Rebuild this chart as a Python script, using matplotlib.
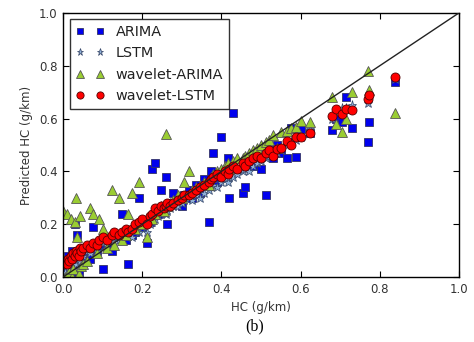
import matplotlib
matplotlib.use("Agg")
import matplotlib.pyplot as plt

# shared measured HC values (g/km)
hc_true = [0.000, 0.005, 0.010, 0.012, 0.015, 0.020, 0.022, 0.025, 0.030, 0.032,
           0.035, 0.040, 0.042, 0.045, 0.050, 0.060, 0.068, 0.076, 0.085, 0.090,
           0.100, 0.110, 0.124, 0.130, 0.141, 0.149, 0.158, 0.164, 0.174, 0.183,
           0.192, 0.200, 0.212, 0.220, 0.225, 0.232, 0.240, 0.247, 0.255, 0.260,
           0.262, 0.270, 0.278, 0.290, 0.300, 0.305, 0.318, 0.325, 0.335, 0.345,
           0.355, 0.369, 0.375, 0.380, 0.390, 0.400, 0.410, 0.417, 0.420, 0.430,
           0.440, 0.455, 0.460, 0.470, 0.480, 0.490, 0.500, 0.513, 0.520, 0.530,
           0.540, 0.550, 0.565, 0.575, 0.588, 0.600, 0.623, 0.680, 0.690, 0.705,
           0.714, 0.729, 0.770, 0.772, 0.838]

arima = [0.03, 0.06, 0.00, 0.08, 0.04, 0.02, 0.10, 0.05, 0.20, 0.07,
         0.16, 0.01, 0.09, 0.06, 0.08, 0.11, 0.07, 0.19, 0.10, 0.12,
         0.03, 0.13, 0.10, 0.15, 0.16, 0.24, 0.14, 0.05, 0.16, 0.17,
         0.30, 0.19, 0.13, 0.21, 0.41, 0.43, 0.24, 0.33, 0.26, 0.38,
         0.20, 0.28, 0.32, 0.29, 0.27, 0.31, 0.33, 0.30, 0.35, 0.32,
         0.37, 0.21, 0.40, 0.47, 0.36, 0.53, 0.38, 0.45, 0.30, 0.62,
         0.41, 0.32, 0.34, 0.44, 0.42, 0.46, 0.41, 0.31, 0.48, 0.45,
         0.50, 0.47, 0.45, 0.565, 0.455, 0.56, 0.545, 0.557, 0.60, 0.587,
         0.68, 0.565, 0.51, 0.587, 0.74]

lstm = [0.04, 0.02, 0.05, 0.07, 0.03, 0.06, 0.09, 0.04, 0.08, 0.05,
        0.10, 0.07, 0.06, 0.09, 0.08, 0.10, 0.09, 0.11, 0.10, 0.12,
        0.13, 0.12, 0.14, 0.15, 0.14, 0.15, 0.16, 0.17, 0.15, 0.18,
        0.17, 0.19, 0.17, 0.20, 0.21, 0.22, 0.23, 0.24, 0.25, 0.24,
        0.25, 0.26, 0.27, 0.27, 0.28, 0.29, 0.30, 0.29, 0.31, 0.30,
        0.32, 0.33, 0.34, 0.35, 0.34, 0.36, 0.37, 0.36, 0.38, 0.38,
        0.39, 0.40, 0.41, 0.40, 0.42, 0.43, 0.44, 0.45, 0.46, 0.47,
        0.47, 0.48, 0.50, 0.51, 0.52, 0.53, 0.56, 0.60, 0.63, 0.64,
        0.64, 0.65, 0.66, 0.68, 0.75]

wavelet_arima = [0.25, 0.00, 0.24, 0.01, 0.02, 0.22, 0.00, 0.03, 0.21, 0.30,
                 0.15, 0.01, 0.23, 0.04, 0.05, 0.06, 0.26, 0.24, 0.09, 0.22,
                 0.18, 0.11, 0.33, 0.12, 0.30, 0.14, 0.16, 0.24, 0.32, 0.18,
                 0.36, 0.20, 0.15, 0.23, 0.22, 0.24, 0.26, 0.27, 0.25, 0.54,
                 0.27, 0.28, 0.29, 0.31, 0.30, 0.36, 0.40, 0.33, 0.34, 0.35,
                 0.36, 0.35, 0.38, 0.39, 0.40, 0.41, 0.42, 0.43, 0.41, 0.44,
                 0.45, 0.45, 0.46, 0.47, 0.48, 0.49, 0.50, 0.51, 0.52, 0.538,
                 0.49, 0.55, 0.553, 0.565, 0.57, 0.59, 0.587, 0.68, 0.58, 0.55,
                 0.60, 0.70, 0.78, 0.71, 0.62]

wavelet_lstm = [0.05, 0.06, 0.05, 0.07, 0.06, 0.08, 0.07, 0.09, 0.08, 0.10,
                0.09, 0.08, 0.11, 0.10, 0.11, 0.12, 0.11, 0.13, 0.12, 0.14,
                0.15, 0.14, 0.16, 0.17, 0.16, 0.17, 0.18, 0.17, 0.18, 0.20,
                0.21, 0.22, 0.20, 0.23, 0.24, 0.26, 0.25, 0.27, 0.26, 0.27,
                0.28, 0.27, 0.28, 0.29, 0.30, 0.31, 0.31, 0.32, 0.33, 0.34,
                0.35, 0.36, 0.37, 0.38, 0.39, 0.38, 0.40, 0.39, 0.41, 0.42,
                0.41, 0.43, 0.42, 0.44, 0.45, 0.46, 0.45, 0.47, 0.48, 0.46,
                0.485, 0.49, 0.515, 0.50, 0.53, 0.53, 0.545, 0.61, 0.636, 0.617,
                0.636, 0.632, 0.674, 0.69, 0.758]

series_names = ["ARIMA", "LSTM", "wavelet-ARIMA", "wavelet-LSTM"]
x_ticks = [0.0, 0.2, 0.4, 0.6, 0.8, 1.0]
y_ticks = [0.0, 0.2, 0.4, 0.6, 0.8, 1.0]

fig = plt.figure(figsize=(4.74, 3.42), dpi=100)
ax = fig.add_axes([0.133, 0.19, 0.835, 0.772])

styles = [
    dict(marker="s", markerfacecolor="#0000ee", markeredgecolor="#333366", markersize=6, markeredgewidth=0.6),
    dict(marker="*", markerfacecolor="#8fb0d8", markeredgecolor="#334466", markersize=6.5, markeredgewidth=0.5),
    dict(marker="^", markerfacecolor="#9acd32", markeredgecolor="#555555", markersize=6.5, markeredgewidth=0.6),
    dict(marker="o", markerfacecolor="#ff0000", markeredgecolor="#550000", markersize=6.5, markeredgewidth=0.6),
]
for ys, name, st in zip([arima, lstm, wavelet_arima, wavelet_lstm], series_names, styles):
    ax.plot(hc_true, ys, linestyle="none", label=name, **st)

ax.plot([0, 1], [0, 1], color="#222222", linewidth=1.0, zorder=5)

ax.set_xlim(0, 1)
ax.set_ylim(0, 1)
ax.set_xticks(x_ticks)
ax.set_yticks(y_ticks)
ax.set_xticklabels([f"{t:.1f}" for t in x_ticks])
ax.set_yticklabels([f"{t:.1f}" for t in y_ticks])
ax.tick_params(direction="in", top=True, right=True, labelsize=8.5, length=4,
               labelcolor="#333333", pad=4)
ax.set_xlabel("HC (g/km)", fontsize=8.5, color="#333333")
ax.set_ylabel("Predicted HC (g/km)", fontsize=8.5, color="#333333")
for s in ax.spines.values():
    s.set_color("black")
    s.set_linewidth(1.0)

leg = ax.legend(loc="upper left", numpoints=2, fontsize=10.4, frameon=True, fancybox=False,
                borderaxespad=0.45, handletextpad=0.8, labelspacing=0.5, borderpad=0.4,
                handlelength=2.0, markerscale=0.8)
leg.get_frame().set_edgecolor("black")
leg.get_frame().set_linewidth(1.0)
for t in leg.get_texts():
    t.set_color("#222222")

fig.text(0.538, 0.047, "(b)", family="Liberation Serif", fontsize=11.5, ha="center", va="center")

fig.savefig("out.png", dpi=100)
